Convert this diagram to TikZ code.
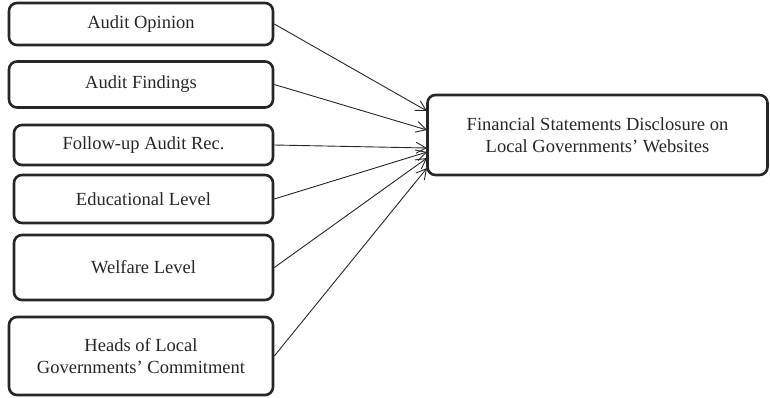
\documentclass[tikz,border=0pt]{standalone}
\usepackage{fontspec}
\setmainfont{Liberation Serif}
\usetikzlibrary{arrows.meta}
\begin{document}
\begin{tikzpicture}[x=1pt,y=-1pt,
  box/.style={draw=black!85, line width=2.6pt, rounded corners=8pt, inner sep=0pt,
    align=center, font=\fontsize{18.5}{22}\selectfont, text=black!85},
  link/.style={line width=0.9pt, draw=black!85, -{Straight Barb[length=10pt,width=11pt,line width=0.9pt]}}]
\useasboundingbox (0,0) rectangle (770,397);
\node[box, minimum width=264pt, minimum height=42pt] (a1) at (141,24) {Audit Opinion};
\node[box, minimum width=264pt, minimum height=46pt] (a2) at (141,84.5) {Audit Findings};
\node[box, minimum width=259pt, minimum height=40pt] (a3) at (143.5,145) {Follow-up Audit Rec.};
\node[box, minimum width=259pt, minimum height=48pt] (a4) at (143.5,199) {Educational Level};
\node[box, minimum width=259pt, minimum height=65pt] (a5) at (143.5,267.5) {Welfare Level};
\node[box, minimum width=264pt, minimum height=78pt] (a6) at (141,356) {Heads of Local\\Governments' Commitment};
\node[box, minimum width=340pt, minimum height=80pt] (t) at (597.5,135) {Financial Statements Disclosure on\\Local Governments' Websites};
\coordinate (e1) at (427,111);
\coordinate (e2) at (427,130);
\coordinate (e3) at (427,148);
\coordinate (e4) at (427,152);
\coordinate (e5) at (427,158);
\coordinate (e6) at (427,168);
\draw[link] (a1.east) -- (e1);
\draw[link] (a2.east) -- (e2);
\draw[link] (a3.east) -- (e3);
\draw[link] (a4.east) -- (e4);
\draw[link] (a5.east) -- (e5);
\draw[link] (a6.east) -- (e6);
\end{tikzpicture}
\end{document}
